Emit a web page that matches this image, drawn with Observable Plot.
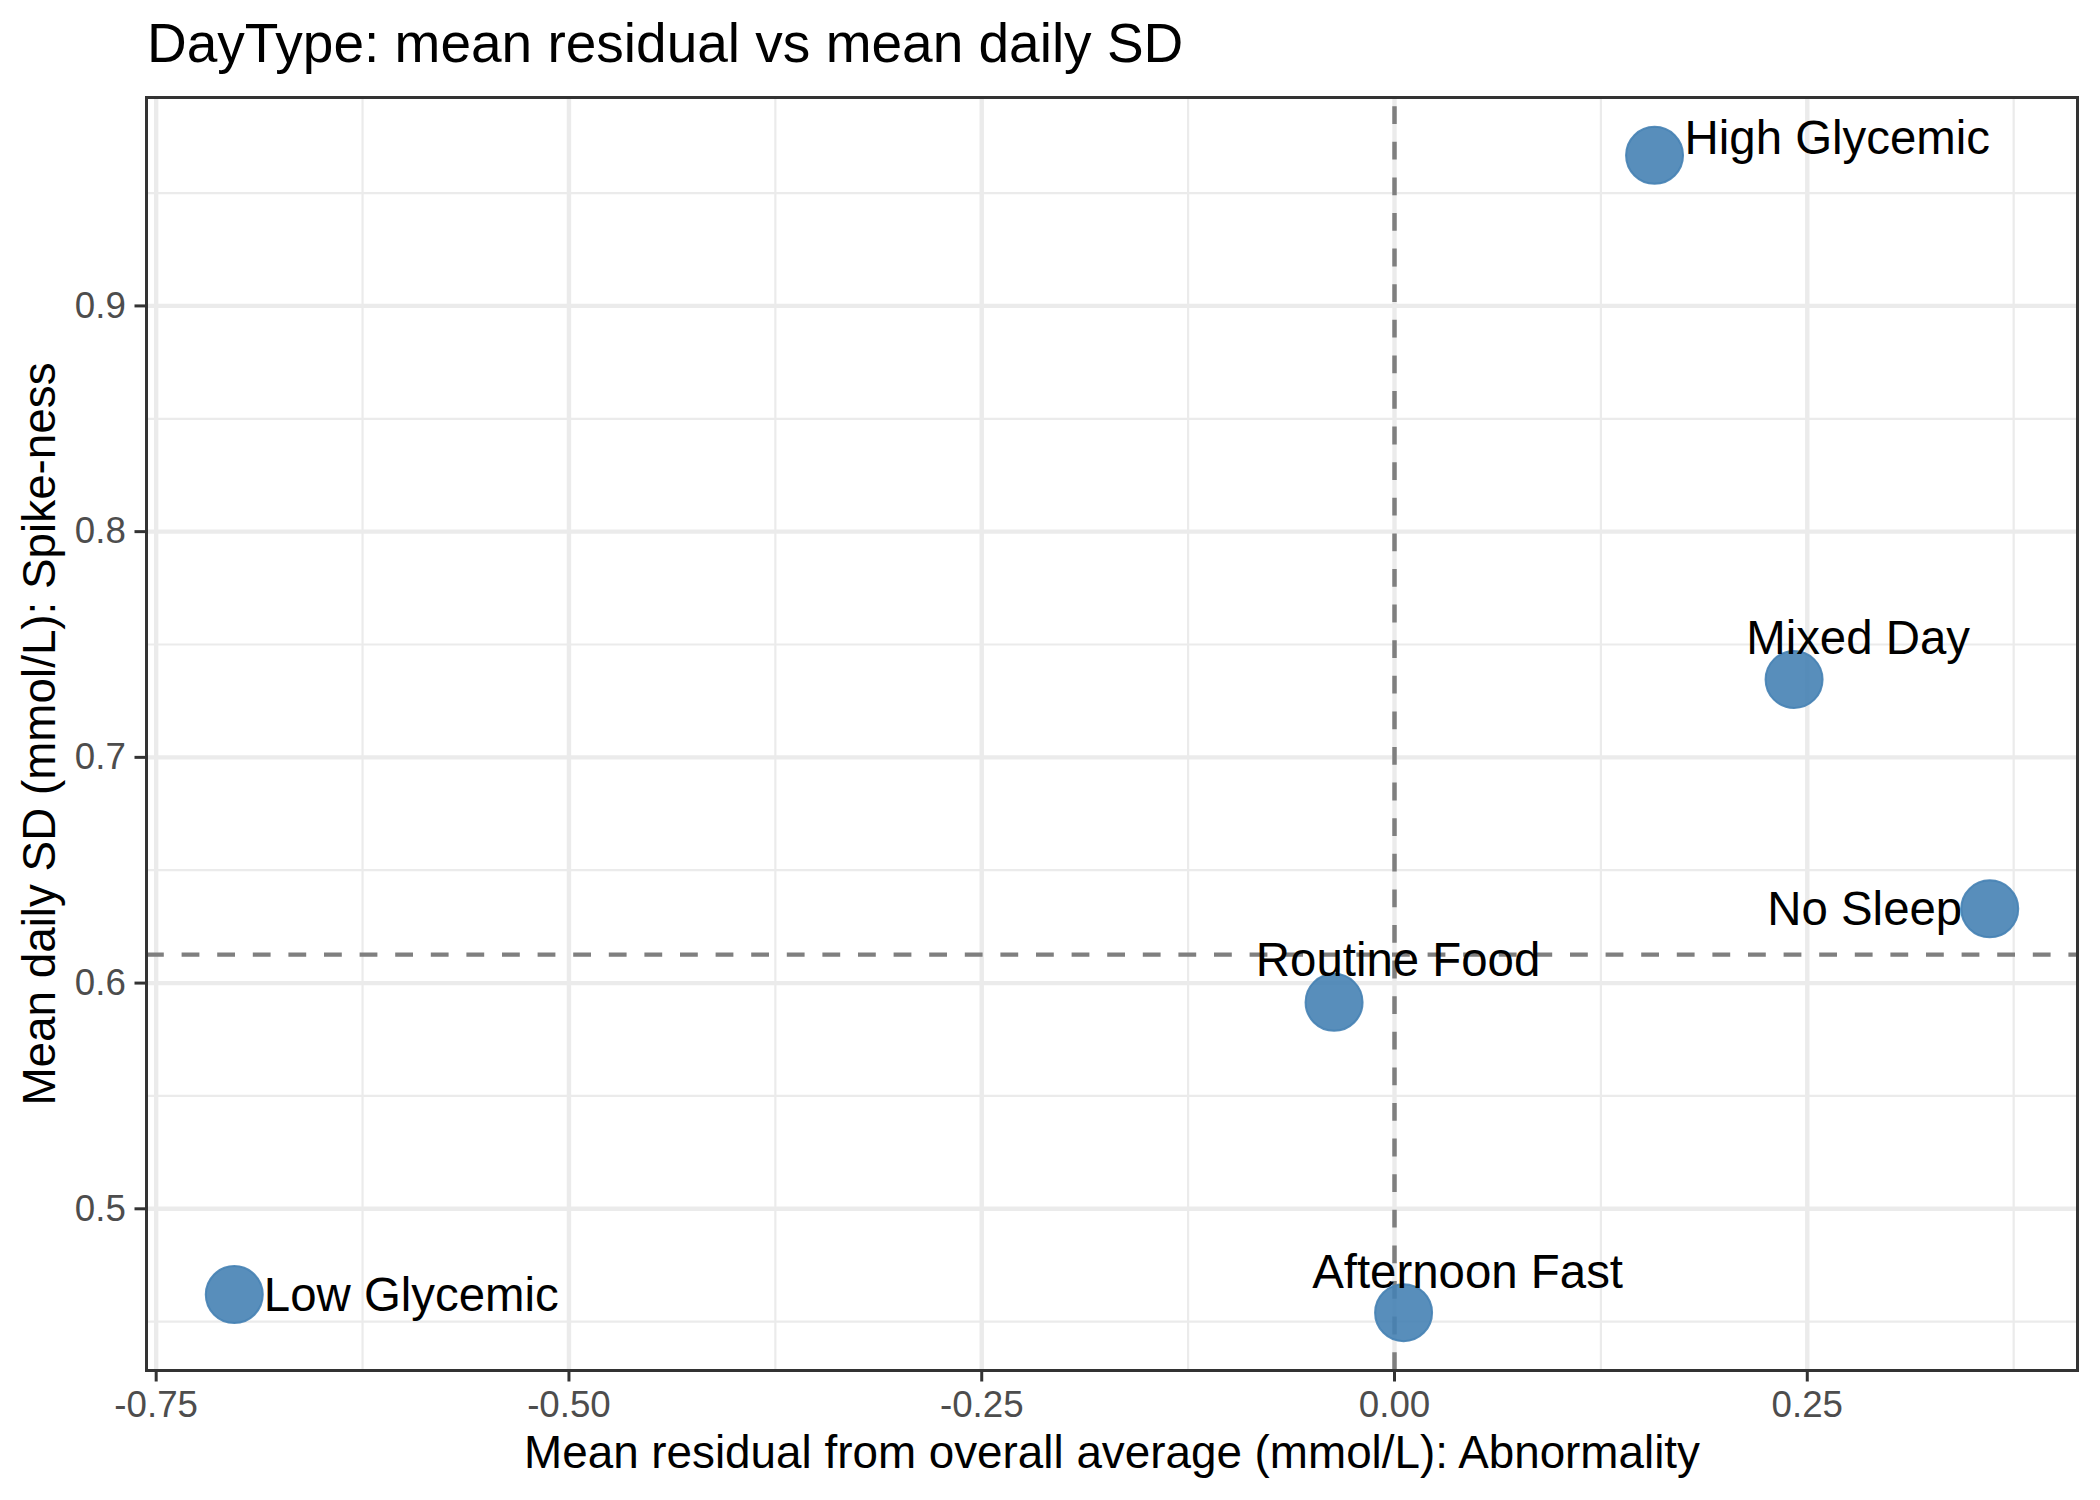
<!DOCTYPE html>
<html><head><meta charset="utf-8">
<script src="https://cdn.jsdelivr.net/npm/d3@7"></script>
<script src="https://cdn.jsdelivr.net/npm/@observablehq/plot@0.6"></script>
<style>
body{margin:0;background:#fff;}
#wrap{width:2100px;height:1500px;position:relative;background:#fff;font-family:"Liberation Sans",Arial,sans-serif;overflow:hidden;}
#title{height:80px;box-sizing:border-box;padding-left:147px;padding-top:16px;font-size:55px;line-height:55px;color:#000;white-space:nowrap;}
#chart svg{display:block;}
</style></head><body>
<div id="wrap"><div id="title"></div><div id="chart"></div></div>
<script>
// ---- data ----
const dayTypes = ["High Glycemic", "Mixed Day", "No Sleep", "Routine Food", "Afternoon Fast", "Low Glycemic"];
const meanResidual = [0.1575, 0.242, 0.3605, -0.0366, 0.0055, -0.7027];
const meanDailySD = [0.9667, 0.7345, 0.6329, 0.5915, 0.454, 0.462];
const overallMeanSD = 0.6126;
const referenceResidual = 0;
const xTicks = [-0.75, -0.5, -0.25, 0, 0.25];
const xMinorTicks = [-0.625, -0.375, -0.125, 0.125, 0.375];
const yTicks = [0.5, 0.6, 0.7, 0.8, 0.9];
const yMinorTicks = [0.45, 0.55, 0.65, 0.75, 0.85, 0.95];
const titleText = "DayType: mean residual vs mean daily SD";
const xTitle = "Mean residual from overall average (mmol/L): Abnormality";
const yTitle = "Mean daily SD (mmol/L): Spike-ness";

// ---- label placement (styling only) ----
const labelPlacement = [
  {anchor: "start",  dx: 30,    dy: -17},
  {anchor: "middle", dx: 64,    dy: -40.5},
  {anchor: "end",    dx: -27.5, dy: 1.5},
  {anchor: "middle", dx: 64,    dy: -41.5},
  {anchor: "middle", dx: 64,    dy: -40},
  {anchor: "start",  dx: 29.5,  dy: 1}
];

function expand(values, mult = 0.05) {
  const [a, b] = d3.extent(values);
  const p = (b - a) * mult;
  return [a - p, b + p];
}
const xDomain = expand(meanResidual.concat([referenceResidual]));
const yDomain = expand(meanDailySD.concat([overallMeanSD]));
const idx = d3.range(dayTypes.length);

document.getElementById("title").textContent = titleText;

const gridColor = "#EBEBEB";
const labelMarks = idx.map(i => Plot.text([i], {
  x: j => meanResidual[j],
  y: j => meanDailySD[j],
  text: j => dayTypes[j],
  textAnchor: labelPlacement[i].anchor,
  lineAnchor: "middle",
  dx: labelPlacement[i].dx,
  dy: labelPlacement[i].dy,
  fontSize: 47.4,
  fill: "black"
}));

const chart = Plot.plot({
  width: 2100,
  height: 1420,
  marginTop: 17,
  marginBottom: 130,
  marginLeft: 146,
  marginRight: 23,
  style: {fontFamily: '"Liberation Sans", Arial, sans-serif', background: "white", overflow: "visible"},
  x: {domain: xDomain},
  y: {domain: yDomain},
  marks: [
    Plot.gridX({ticks: xMinorTicks, stroke: gridColor, strokeOpacity: 1, strokeWidth: 2.2}),
    Plot.gridY({ticks: yMinorTicks, stroke: gridColor, strokeOpacity: 1, strokeWidth: 2.2}),
    Plot.gridX({ticks: xTicks, stroke: gridColor, strokeOpacity: 1, strokeWidth: 4.4}),
    Plot.gridY({ticks: yTicks, stroke: gridColor, strokeOpacity: 1, strokeWidth: 4.4}),
    Plot.ruleY([overallMeanSD], {y: d => d, stroke: "#7F7F7F", strokeWidth: 4.45, strokeDasharray: "17.8,17.8"}),
    Plot.ruleX([referenceResidual], {x: d => d, y1: yDomain[0], y2: yDomain[1], stroke: "#7F7F7F", strokeWidth: 4.45, strokeDasharray: "17.8,17.8"}),
    Plot.dot(idx, {
      x: i => meanResidual[i],
      y: i => meanDailySD[i],
      r: 28.5,
      fill: "#4682B4",
      fillOpacity: 0.9,
      stroke: "#4682B4",
      strokeOpacity: 0.9,
      strokeWidth: 2
    }),
    ...labelMarks,
    Plot.axisX({ticks: xTicks, tickFormat: d => d.toFixed(2), tickSize: 11.5, tickPadding: 9.2,
      stroke: "#333333", strokeWidth: 3, fill: "#4D4D4D", fontSize: 36.7, label: null}),
    Plot.axisY({ticks: yTicks, tickFormat: d => d.toFixed(1), tickSize: 11.5, tickPadding: 9.2,
      stroke: "#333333", strokeWidth: 3, fill: "#4D4D4D", fontSize: 36.7, label: null}),
    Plot.text([xTitle], {frameAnchor: "bottom", text: d => d, textAnchor: "middle", lineAnchor: "middle",
      dy: 83, fontSize: 45.8, fill: "black"}),
    Plot.text([yTitle], {frameAnchor: "left", text: d => d, rotate: -90, textAnchor: "middle", lineAnchor: "middle",
      dx: -105.7, fontSize: 45.8, fill: "black"}),
    Plot.frame({stroke: "#333333", strokeWidth: 3})
  ]
});
document.getElementById("chart").appendChild(chart);
</script></body></html>
